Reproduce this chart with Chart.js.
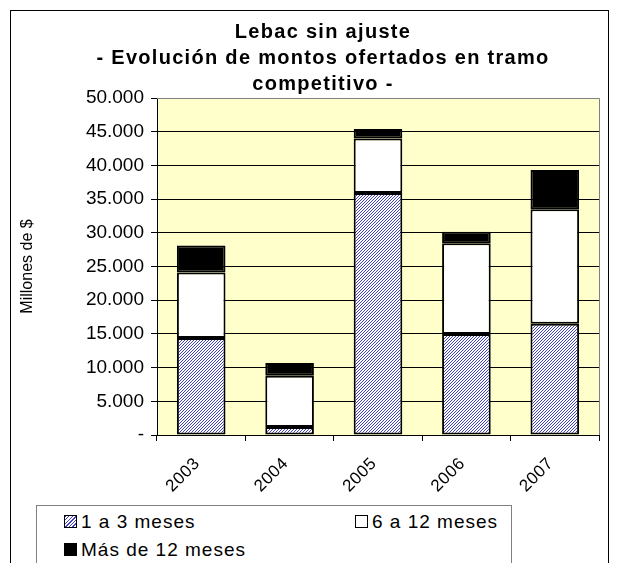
<!DOCTYPE html>
<html>
<head>
<meta charset="utf-8">
<script src="https://cdn.jsdelivr.net/npm/chart.js@4"></script>
<style>
  body { margin: 0; background: #fff; font-family: "Liberation Sans", Arial, sans-serif; }
  #wrap { position: relative; width: 624px; height: 563px; }
  #frame { position: absolute; left: 10px; top: 10px; width: 599px; height: 560px; border: 1px solid #000; box-sizing: border-box; }
  canvas { position: absolute; left: 0; top: 0; }
  #legend { position: absolute; left: 36px; top: 505px; width: 476px; height: 70px; border: 1px solid #808080; background: #fff; box-sizing: border-box; }
  .item { position: absolute; font-size: 19px; line-height: 22px; letter-spacing: 1px; color: #000; white-space: nowrap; }
  .sw { display: inline-block; width: 11px; height: 11px; border: 1px solid #000; margin-right: 4px; vertical-align: 0px; }
</style>
</head>
<body>
<div id="wrap">
  <div id="frame"></div>
  <canvas id="chart" width="624" height="563"></canvas>
  <div id="legend"></div>
</div>
<script>
// Years on the x axis
const years = ['2003', '2004', '2005', '2006', '2007'];
// Millones de $ por plazo
const corto = [14400, 1200, 35900, 15000, 16500];   // 1 a 3 meses
const medio = [9700, 7600, 8100, 13450, 17000];     // 6 a 12 meses
const largo = [4000, 1900, 1400, 1700, 5800];       // Más de 12 meses
const seriesNames = ['1 a 3 meses', '6 a 12 meses', 'Más de 12 meses'];
const titleLines = ['Lebac sin ajuste', '- Evolución de montos ofertados en tramo', 'competitivo -'];

// hatch pattern for the short term bars
function makeHatch() {
    const c = document.createElement('canvas');
    c.width = 3; c.height = 3;
    const g = c.getContext('2d');
    g.fillStyle = '#ffffff';
    g.fillRect(0, 0, 3, 3);
    g.fillStyle = '#4040c4';
    g.fillRect(2, 0, 1, 1);
    g.fillRect(1, 1, 1, 1);
    g.fillRect(0, 2, 1, 1);
    return g.createPattern(c, 'repeat');
}

function fmt(v) {
    if (v === 0) return '-';
    return String(v).replace(/\B(?=(\d{3})+(?!\d))/g, '.');
}

const ctx = document.getElementById('chart').getContext('2d');
const hatch = makeHatch();

const decor = {
    id: 'decor',
    beforeDraw(chart) {
        const a = chart.chartArea;
        const c = chart.ctx;
        c.save();
        c.fillStyle = '#ffffcc';
        c.fillRect(a.left, a.top, a.right - a.left, a.bottom - a.top);
        c.restore();
    },
    afterDatasetsDraw(chart) {
        const a = chart.chartArea;
        const c = chart.ctx;
        c.save();
        c.strokeStyle = '#808080';
        c.lineWidth = 1;
        c.beginPath();
        c.moveTo(a.left, a.top + 0.5);
        c.lineTo(a.right + 0.5, a.top + 0.5);
        c.lineTo(a.right + 0.5, a.bottom);
        c.stroke();
        // title
        c.fillStyle = '#000';
        c.font = 'bold 20px "Liberation Sans", Arial, sans-serif';
        c.letterSpacing = '1.3px';
        c.textAlign = 'center';
        c.textBaseline = 'middle';
        titleLines.forEach((t, i) => c.fillText(t, 323, 32 + i * 26));
        // rotated year labels
        const xs = chart.scales.x;
        c.font = '17px "Liberation Sans", Arial, sans-serif';
        c.letterSpacing = '0.5px';
        c.textAlign = 'right';
        years.forEach((y, i) => {
            const px = xs.getPixelForValue(i);
            c.save();
            c.translate(px - 4, 461);
            c.rotate(-Math.PI / 4);
            c.fillText(y, 0, 0);
            c.restore();
        });
        c.restore();
    }
};

new Chart(ctx, {
    type: 'bar',
    data: {
        labels: years,
        datasets: [
            { label: seriesNames[0], data: corto, backgroundColor: hatch },
            { label: seriesNames[1], data: medio, backgroundColor: '#ffffff' },
            { label: seriesNames[2], data: largo, backgroundColor: '#000000' }
        ]
    },
    options: {
        responsive: false,
        animation: false,
        layout: { padding: { top: 98, left: 16, right: 25, bottom: 0 } },
        datasets: {
            bar: { borderColor: '#000', borderWidth: 2, borderSkipped: false, categoryPercentage: 1, barPercentage: 0.55 }
        },
        plugins: { legend: { display: false }, tooltip: { enabled: false } },
        scales: {
            x: {
                stacked: true,
                offset: true,
                grid: { offset: true, drawOnChartArea: false, color: '#000', tickLength: 6 },
                border: { color: '#000', width: 1 },
                ticks: { display: false },
                afterFit(s) { s.height = 128; }
            },
            y: {
                stacked: true,
                min: 0,
                max: 50000,
                ticks: {
                    stepSize: 5000,
                    color: '#000',
                    padding: 7,
                    font: { family: '"Liberation Sans", Arial, sans-serif', size: 19 },
                    callback: v => fmt(v)
                },
                grid: { color: '#000', lineWidth: 1, tickLength: 6 },
                border: { color: '#000', width: 1 },
                title: {
                    display: true,
                    text: 'Millones de $',
                    color: '#000',
                    font: { family: '"Liberation Sans", Arial, sans-serif', size: 16 },
                    padding: { top: 2, bottom: 0 }
                },
                afterFit(s) { s.width = 141; }
            }
        }
    },
    plugins: [decor]
});

// legend in a box below the chart, like the original
const swatches = [
    'background: repeating-linear-gradient(135deg, #4040c4 0 1px, #fff 1px 2.5px);',
    'background: #fff;',
    'background: #000;'
];
const spots = [[27, 5], [318, 5], [27, 33]];
const legend = document.getElementById('legend');
seriesNames.forEach((n, i) => {
    const d = document.createElement('div');
    d.className = 'item';
    d.style.left = spots[i][0] + 'px';
    d.style.top = spots[i][1] + 'px';
    d.innerHTML = '<span class="sw" style="' + swatches[i] + '"></span>' + n;
    legend.appendChild(d);
});
</script>
</body>
</html>
